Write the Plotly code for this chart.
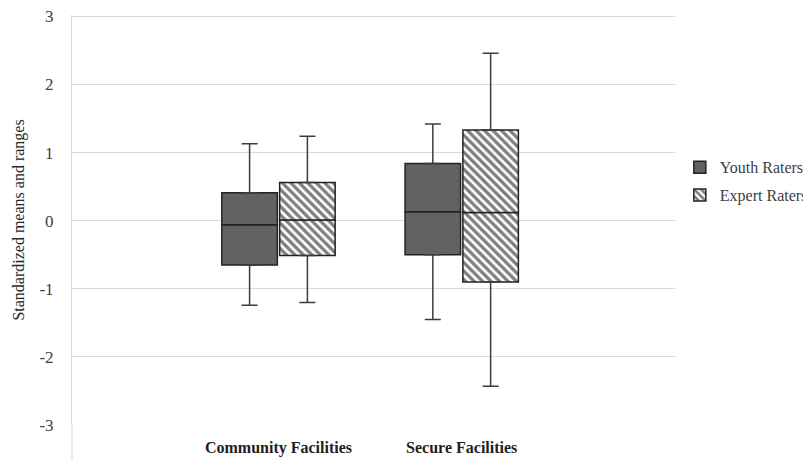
import plotly.graph_objects as go

categories = ["Community Facilities", "Secure Facilities"]
series_names = ["Youth Raters", "Expert Raters"]

youth_low = [-1.24, -1.45]
youth_q1 = [-0.65, -0.50]
youth_med = [-0.06, 0.13]
youth_q3 = [0.41, 0.84]
youth_high = [1.13, 1.42]

expert_low = [-1.20, -2.43]
expert_q1 = [-0.51, -0.90]
expert_med = [0.01, 0.12]
expert_q3 = [0.56, 1.33]
expert_high = [1.24, 2.46]

y_ticks = [-3, -2, -1, 0, 1, 2, 3]

SERIF = "Liberation Serif"
OUTLINE = "#222222"
WHISK = "#3c3c3c"

fig = go.Figure()


def add_series(name, low, q1, med, q3, high, marker_extra, group):
    zeros = [0] * len(categories)
    # lower half of box: from median down to q1, whisker to low
    fig.add_trace(go.Bar(
        x=categories, base=med, y=[a - m for a, m in zip(q1, med)],
        offsetgroup=group, legendgroup=group, showlegend=False, name=name,
        marker=dict(line=dict(color=OUTLINE, width=1.5), **marker_extra),
        error_y=dict(type="data", symmetric=False, array=zeros,
                     arrayminus=[a - b for a, b in zip(q1, low)],
                     color=WHISK, thickness=1.5, width=8),
        hoverinfo="skip",
    ))
    # upper half of box: from median up to q3, whisker to high
    fig.add_trace(go.Bar(
        x=categories, base=med, y=[a - m for a, m in zip(q3, med)],
        offsetgroup=group, legendgroup=group, showlegend=True, name=name,
        marker=dict(line=dict(color=OUTLINE, width=1.5), **marker_extra),
        error_y=dict(type="data", symmetric=False,
                     array=[h - a for h, a in zip(high, q3)], arrayminus=zeros,
                     color=WHISK, thickness=1.5, width=8),
        hoverinfo="skip",
    ))


add_series(series_names[0], youth_low, youth_q1, youth_med, youth_q3, youth_high,
           dict(color="#626262"), "youth")
add_series(series_names[1], expert_low, expert_q1, expert_med, expert_q3, expert_high,
           dict(color="white", pattern=dict(shape="\\", fgcolor="#000000", bgcolor="white",
                                            size=6, solidity=0.55)), "expert")

# the page body adds an 8px offset, so the figure is 8px smaller than the window
fig.update_layout(
    width=803, height=452,
    margin=dict(l=64, r=136, t=7, b=35, autoexpand=False),
    paper_bgcolor="white", plot_bgcolor="white",
    barmode="group", bargap=0.369, bargroupgap=0.04,
    font=dict(family=SERIF, size=16, color="#404040"),
    showlegend=True,
    legend=dict(x=1.008, xanchor="left", y=0.67, yanchor="top",
                font=dict(family=SERIF, size=16, color="#404040"),
                itemwidth=30, tracegroupgap=4, bgcolor="rgba(0,0,0,0)"),
    shapes=[dict(type="line", xref="paper", yref="paper", x0=0, x1=0, y0=0, y1=-0.09,
                 line=dict(color="#d9d9d9", width=1), layer="below")],
)

fig.update_xaxes(
    type="category", range=[-1.127, 2.164], automargin=False,
    showgrid=False, showline=False, zeroline=False, ticks="",
    ticklabelstandoff=11,
    tickfont=dict(family=SERIF, size=16, color="#1e1e1e", weight="bold"),
)
fig.update_yaxes(
    range=[-3, 3.02], tickvals=y_ticks, ticktext=[str(v) for v in y_ticks],
    automargin=False, ticklabeloverflow="allow",
    showgrid=True, gridcolor="#d9d9d9", gridwidth=1,
    showline=True, linecolor="#d9d9d9", linewidth=1,
    zeroline=False, ticks="", ticklabelstandoff=14,
    tickfont=dict(family=SERIF, size=17, color="#404040"),
    title=dict(text="Standardized means and ranges", standoff=10,
               font=dict(family=SERIF, size=16, color="#262626")),
)

fig.write_html("out.html")
